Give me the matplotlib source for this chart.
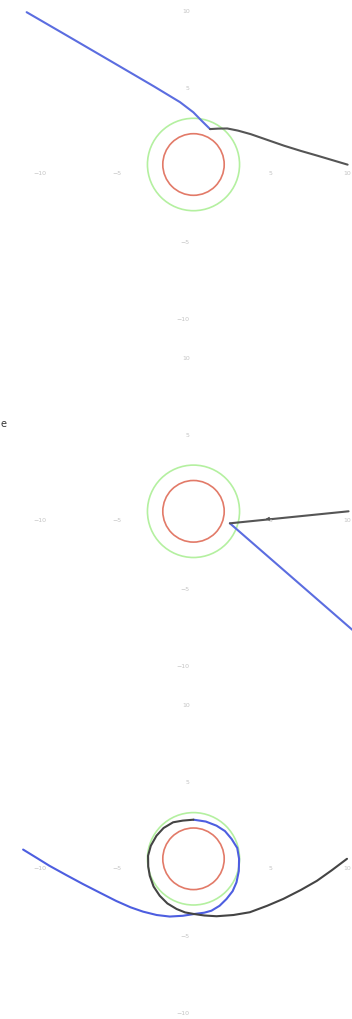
import matplotlib.pyplot as plt
from matplotlib.patches import Circle

# Trajectories around a body: inner radius (red) and outer radius (green)
inner_radius = 2.0
outer_radius = 3.0

# Panel 1: incoming (blue) and outgoing (black) path
p1_in_x = [-10.87, -8.26, -5.42, -2.59, -0.88, -0.01, 0.53, 1.08]
p1_in_y = [9.89, 8.38, 6.73, 5.08, 4.05, 3.39, 2.84, 2.30]
p1_out_x = [1.08, 1.6, 2.20, 2.9, 3.73, 4.8, 5.90, 7.0, 8.08, 10.04]
p1_out_y = [2.30, 2.33, 2.34, 2.2, 1.97, 1.6, 1.22, 0.88, 0.57, -0.01]

# Panel 2: straight reflection at the outer radius
p2_in_x = [2.37, 10.35]
p2_in_y = [-0.78, -7.70]
p2_out_x = [10.10, 2.37]
p2_out_y = [0.00, -0.78]

# Panel 3: one loop around the body
p3_in_x = [-11.1, -10.2, -9.39, -8.3, -7.2, -6.1, -5.03, -4.1, -3.29, -2.4,
           -1.55, -0.7, 0.08, 0.7, 1.17, 1.7, 2.15, 2.55, 2.8, 2.95, 2.97,
           2.85, 2.48, 2.05, 1.5, 0.8, 0.0]
p3_in_y = [0.6, 0.05, -0.45, -1.05, -1.64, -2.2, -2.74, -3.15, -3.43, -3.65,
           -3.75, -3.7, -3.58, -3.5, -3.37, -3.05, -2.61, -2.1, -1.53, -0.8,
           0.0, 0.7, 1.29, 1.8, 2.15, 2.42, 2.54]
p3_out_x = [0.0, -0.7, -1.33, -1.95, -2.41, -2.78, -2.96, -2.95, -2.85, -2.6,
            -2.2, -1.7, -1.1, -0.55, 0.0, 0.7, 1.5, 2.6, 3.67, 4.8, 5.86,
            7.0, 8.04, 9.0, 10.0]
p3_out_y = [2.54, 2.48, 2.37, 2.0, 1.5, 0.85, 0.2, -0.5, -1.1, -1.8,
            -2.4, -2.9, -3.26, -3.48, -3.58, -3.68, -3.73, -3.65, -3.47, -3.05,
            -2.6, -2.02, -1.43, -0.75, 0.0]

ticks = [-10, -5, 5, 10]

panel_centres = [165.5, 512.3, 859.8]   # pixel rows of the origin
fig_w, fig_h = 352, 1020
scale = 15.35

fig = plt.figure(figsize=(fig_w / 100, fig_h / 100), dpi=100)


def setup(c):
    half = 170
    ax = fig.add_axes([0, 1 - (c + half) / fig_h, 1, 2 * half / fig_h])
    ax.set_xlim(-193.5 / scale, (fig_w - 193.5) / scale)
    ax.set_ylim(-half / 15.4, half / 15.4)
    ax.axis("off")
    for t in ticks:
        lab = str(t).replace("-", "\u2212")
        ax.text(t, -0.55, lab, ha="center", va="center", fontsize=4.5,
                color="#c4c4c4")
        ax.text(-0.25, t, lab, ha="right", va="center", fontsize=4.5,
                color="#c4c4c4")
    ax.add_patch(Circle((0, 0), outer_radius, fill=False, ec="#b4f0a0", lw=1.2))
    ax.add_patch(Circle((0, 0), inner_radius, fill=False, ec="#e27a68", lw=1.2))
    return ax


blue = "#5b6de0"
dark = "#555555"
line_kw = dict(lw=1.5, solid_capstyle="round", solid_joinstyle="round")

ax1 = setup(panel_centres[0])
ax1.plot(p1_in_x, p1_in_y, color=blue, **line_kw)
ax1.plot(p1_out_x, p1_out_y, color=dark, **line_kw)

ax2 = setup(panel_centres[1])
ax2.plot(p2_in_x, p2_in_y, color=blue, **line_kw)
ax2.plot(p2_out_x, p2_out_y, color=dark, **line_kw)
ax2.annotate("", xy=(4.5, -0.53), xytext=(5.3, -0.45),
             arrowprops=dict(arrowstyle="-|>", color=dark, lw=0.8,
                             mutation_scale=5))

ax3 = setup(panel_centres[2])
ax3.plot(p3_in_x, p3_in_y, color="#4d5ee0", **line_kw)
ax3.plot(p3_out_x, p3_out_y, color="#444444", **line_kw)

fig.text(0.5 / fig_w, 1 - 424 / fig_h, "e", ha="left", va="center",
         fontsize=7, color="#333333")

fig.savefig("out.png", dpi=100, facecolor="white")
